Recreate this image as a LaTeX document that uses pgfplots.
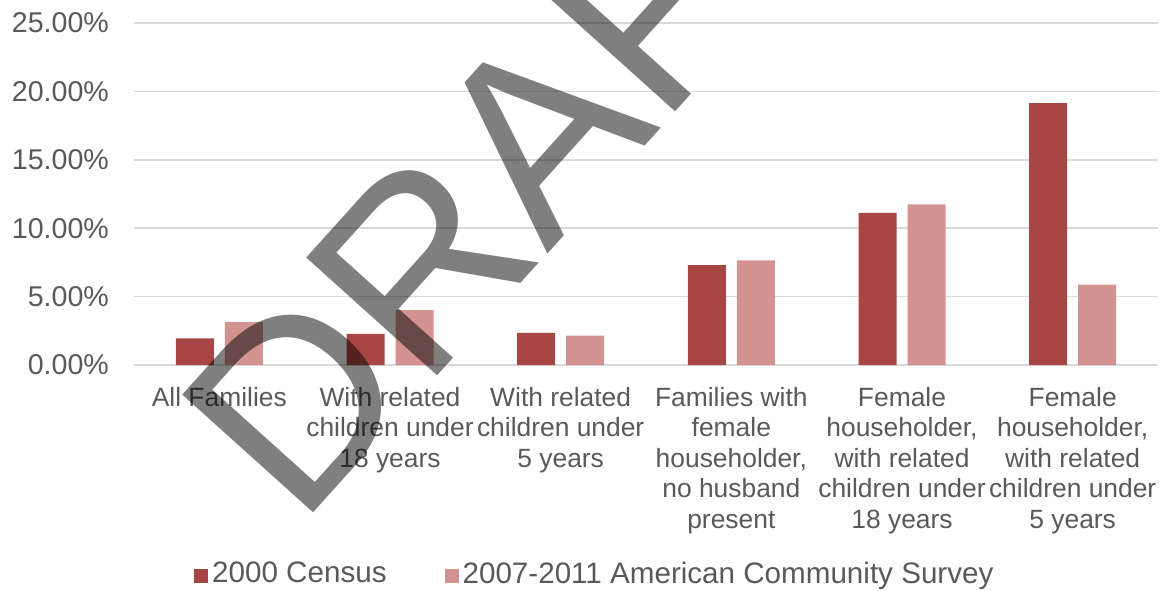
\documentclass[border=0pt]{standalone}
\usepackage{fontspec}
\setmainfont{Liberation Sans}
\usepackage{pgfplots}
\pgfplotsset{compat=1.18}
\definecolor{cdark}{HTML}{A84644}
\definecolor{clight}{HTML}{D39391}
\definecolor{txt}{HTML}{595959}
\definecolor{gridc}{HTML}{D9D9D9}
\begin{document}
\begin{tikzpicture}
\useasboundingbox (-67pt,-112.5pt) rectangle (515.5pt,182.5pt);
\begin{axis}[
  scale only axis,
  width=512pt, height=171pt,
  xmin=-0.5, xmax=5.5,
  ymin=0, ymax=25,
  axis line style={draw=none},
  major tick length=0pt,
  ymajorgrids,
  grid style={gridc, line width=0.75pt},
  ytick={0,5,10,15,20,25},
  yticklabels={0.00\%,5.00\%,10.00\%,15.00\%,20.00\%,25.00\%},
  yticklabel style={font=\fontsize{14.3}{16}\selectfont, text=txt, anchor=east, xshift=-9pt},
  xtick={0,1,2,3,4,5},
  xticklabels={{All Families},
    {With related\\children under\\18 years},
    {With related\\children under\\5 years},
    {Families with\\female\\householder,\\no husband\\present},
    {Female\\householder,\\with related\\children under\\18 years},
    {Female\\householder,\\with related\\children under\\5 years}},
  xticklabel style={font=\fontsize{13.2}{15.25}\selectfont, text=txt, align=center, anchor=north, yshift=-7.5pt},
  ybar, bar width=19pt,
  legend style={at={(0.451,-0.611)}, anchor=center, draw=none, fill=none,
    legend columns=2, font=\fontsize{14.8}{16}\selectfont, text=txt,
    /tikz/every even column/.append style={column sep=27pt}},
  legend image code/.code={\fill[#1] (-2pt,-4.5pt) rectangle (5pt,2.5pt);},
]
\addplot[fill=cdark, draw=none, bar shift=-12.25pt] coordinates {(0,1.95) (1,2.27) (2,2.34) (3,7.3) (4,11.13) (5,19.15)};
\addlegendentry{2000 Census}
\addplot[fill=clight, draw=none, bar shift=12.25pt] coordinates {(0,3.14) (1,4.02) (2,2.14) (3,7.65) (4,11.74) (5,5.87)};
\addlegendentry{2007-2011 American Community Survey}
\end{axis}
\node[rotate=48, text=black, text opacity=0.5, inner sep=0pt] at (193pt,106pt) {\fontsize{128}{128}\selectfont DRAFT};
\end{tikzpicture}
\end{document}
